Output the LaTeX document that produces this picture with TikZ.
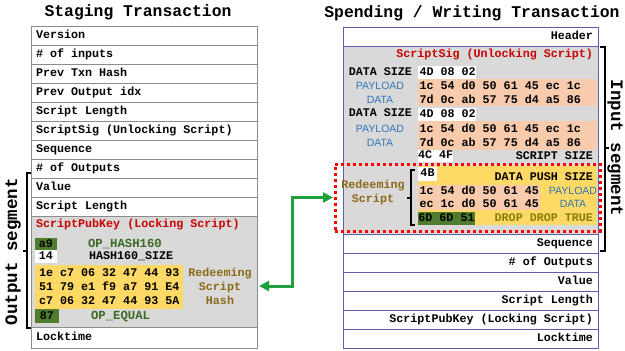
\documentclass[tikz,border=0pt]{standalone}
\usepackage{fontspec}
\newfontfamily\mono{Liberation Mono}
\newfontfamily\sansf{Liberation Sans}
\usetikzlibrary{arrows.meta}
\definecolor{lgray}{RGB}{140,140,140}
\definecolor{rblue}{RGB}{95,95,175}
\definecolor{blk}{RGB}{217,217,217}
\definecolor{sred}{RGB}{200,0,0}
\definecolor{dgreen}{RGB}{80,125,45}
\definecolor{opgreen}{RGB}{60,105,35}
\definecolor{yel}{RGB}{255,217,102}
\definecolor{salmon}{RGB}{248,203,173}
\definecolor{pblue}{RGB}{46,117,182}
\definecolor{brown}{RGB}{140,105,25}
\definecolor{olive}{RGB}{135,125,10}
\definecolor{agreen}{RGB}{30,160,60}
\newcommand\lrowtext[1]{\makebox[216pt][l]{#1}}
\newcommand\rrowtext[1]{\makebox[245pt][r]{#1}}
\begin{document}
\begin{tikzpicture}[x=1pt,y=-1pt,
  every node/.style={inner sep=0pt, outer sep=0pt, font=\mono\bfseries\fontsize{11.7}{12}\selectfont, text height=7.5pt, text depth=1.5pt},
  lrow/.style={draw=lgray, line width=1pt, minimum width=226pt, minimum height=19pt, anchor=north west},
  rrow/.style={draw=rblue, line width=1pt, minimum width=255pt, minimum height=19pt, anchor=north west},
  fbox/.style={anchor=north west, minimum width=#1},
  ttl/.style={font=\mono\bfseries\fontsize{16.4}{18}\selectfont},
  segtxt/.style={font=\mono\bfseries\fontsize{#1}{20}\selectfont},
  opg/.style={text=opgreen, font=\mono\bfseries\fontsize{12.3}{13}\selectfont},
  pay/.style={text=pblue, font=\sansf\fontsize{10.5}{12}\selectfont},
  brk/.style={draw=black, line width=1.4pt},
  garrow/.style={draw=agreen, line width=3pt, {Triangle[length=10pt,width=10pt]}-{Triangle[length=10pt,width=10pt]}},
  dotbox/.style={draw=red, line width=3pt, dash pattern=on 3pt off 3pt}
]
\useasboundingbox (0,0) rectangle (625,351);

% ---------- Left: Staging Transaction ----------
\node[ttl] (ltitle) at (138,13) {Staging Transaction};
\node[lrow] (l1) at (31,26) {\lrowtext{Version}};
\node[lrow] (l2) at (31,45) {\lrowtext{\# of inputs}};
\node[lrow] (l3) at (31,64) {\lrowtext{Prev Txn Hash}};
\node[lrow] (l4) at (31,83) {\lrowtext{Prev Output idx}};
\node[lrow] (l5) at (31,102) {\lrowtext{Script Length}};
\node[lrow] (l6) at (31,121) {\lrowtext{ScriptSig (Unlocking Script)}};
\node[lrow] (l7) at (31,140) {\lrowtext{Sequence}};
\node[lrow] (l8) at (31,159) {\lrowtext{\# of Outputs}};
\node[lrow] (l9) at (31,178) {\lrowtext{Value}};
\node[lrow] (l10) at (31,197) {\lrowtext{Script Length}};
\node[lrow, fill=blk, minimum height=111pt] (spk) at (31,216) {};
\node[lrow, minimum height=21pt] (l12) at (31,327) {\lrowtext{Locktime}};

\node[anchor=west, text=sred] (spkt) at (36,224.5) {ScriptPubKey (Locking Script)};
\node[fbox=22pt, minimum height=12pt, fill=dgreen] (a9) at (35,238) {a9};
\node[fbox=22pt, minimum height=13pt, fill=white] (b14) at (35,250) {14};
\node[anchor=west, opg] (oph) at (88,244) {OP\_HASH160};
\node[anchor=west] (hsz) at (89,256.5) {HASH160\_SIZE};
\node[fbox=148pt, minimum height=44pt, fill=yel] (hashblk) at (35,265) {};
\node[anchor=west] (h1) at (39,273.5) {1e c7 06 32 47 44 93};
\node[anchor=west] (h2) at (39,287.5) {51 79 e1 f9 a7 91 E4};
\node[anchor=west] (h3) at (39,301.5) {c7 06 32 47 44 93 5A};
\node[text=brown] (rsh1) at (220,273) {Redeeming};
\node[text=brown] (rsh2) at (220,287) {Script};
\node[text=brown] (rsh3) at (220,301) {Hash};
\node[fbox=24pt, minimum height=14pt, fill=dgreen] (b87) at (35,309) {87};
\node[anchor=west, opg] (opeq) at (91,316.5) {OP\_EQUAL};

% Output segment bracket
\draw[brk] (31,173) -- (27,173) -- (27,328) -- (31,328);
\draw[brk] (27,251) -- (23,251);
\node[segtxt=17.5, rotate=90] (outseg) at (14,251.5) {Output segment};

% ---------- Right: Spending / Writing Transaction ----------
\node[ttl] (rtitle) at (472,14) {Spending / Writing Transaction};
\node[rrow] (r1) at (343,27) {\rrowtext{Header}};
\node[rrow, fill=blk, minimum height=188pt] (inblk) at (343,46) {};
\node[rrow] (r3) at (343,234) {\rrowtext{Sequence}};
\node[rrow] (r4) at (343,253) {\rrowtext{\# of Outputs}};
\node[rrow] (r5) at (343,272) {\rrowtext{Value}};
\node[rrow] (r6) at (343,291) {\rrowtext{Script Length}};
\node[rrow] (r7) at (343,310) {\rrowtext{ScriptPubKey (Locking Script)}};
\node[rrow] (r8) at (343,329) {\rrowtext{Locktime}};

\node[anchor=east, text=sred] (sst) at (593,54) {ScriptSig (Unlocking Script)};
\node[anchor=east] (ds1) at (412,72) {DATA SIZE};
\node[fbox=58pt, minimum height=13pt, fill=white] (w1) at (418,66) {};
\node[anchor=west] (w1t) at (419.5,72.5) {4D 08 02};
\node[fbox=179pt, minimum height=27pt, fill=salmon] (s1) at (418,79) {};
\node[anchor=west] (s1a) at (419.5,86.5) {1c 54 d0 50 61 45 ec 1c};
\node[anchor=west] (s1b) at (419.5,100.5) {7d 0c ab 57 75 d4 a5 86};
\node[pay] (p1a) at (380,86.5) {PAYLOAD};
\node[pay] (p1b) at (380,100.5) {DATA};
\node[anchor=east] (ds2) at (412,113.5) {DATA SIZE};
\node[fbox=58pt, minimum height=13pt, fill=white] (w2) at (418,107.5) {};
\node[anchor=west] (w2t) at (419.5,114) {4D 08 02};
\node[fbox=179pt, minimum height=29pt, fill=salmon] (s2) at (418,120.5) {};
\node[anchor=west] (s2a) at (419.5,129) {1c 54 d0 50 61 45 ec 1c};
\node[anchor=west] (s2b) at (419.5,143) {7d 0c ab 57 75 d4 a5 86};
\node[pay] (p2a) at (380,129) {PAYLOAD};
\node[pay] (p2b) at (380,143) {DATA};
\node[fbox=35pt, minimum height=12.5pt, fill=white] (w3) at (418,149.5) {4C 4F};
\node[anchor=east] (ssz) at (593,156) {SCRIPT SIZE};

% Redeeming script area
\node[fbox=179pt, minimum height=59pt, fill=yel] (ry) at (418,166) {};
\node[fbox=19pt, minimum height=14.5pt, fill=white] (w4) at (418,166.5) {4B};
\node[anchor=east] (dps) at (593,177.5) {DATA PUSH SIZE};
\node[fbox=122pt, minimum height=25pt, fill=salmon] (s3) at (418,185) {};
\node[anchor=west] (s3a) at (419.5,191) {1c 54 d0 50 61 45};
\node[anchor=west] (s3b) at (419.5,204) {ec 1c d0 50 61 45};
\node[pay] (p3a) at (573,191) {PAYLOAD};
\node[pay] (p3b) at (573,204) {DATA};
\node[fbox=57pt, minimum height=13pt, fill=dgreen] (g3) at (418,212) {6D 6D 51};
\node[anchor=east, text=olive] (ddt) at (593,218.5) {DROP DROP TRUE};
\node[text=brown] (rs1) at (373,185) {Redeeming};
\node[text=brown] (rs2) at (373,199) {Script};
\draw[brk, line width=1.2pt] (415,170) -- (411,170) -- (411,225) -- (415,225);
\draw[brk, line width=1.2pt] (411,198) -- (407,198);

\node[dotbox, anchor=north west, minimum width=265pt, minimum height=67pt] (rbox) at (335,164) {};

% Input segment bracket
\draw[brk] (600,47) -- (605,47) -- (605,251) -- (600,251);
\draw[brk] (605,148) -- (609,148);
\node[segtxt=17.5, rotate=-90] (inseg) at (614,148) {Input segment};

% Green double arrow
\coordinate (hashin) at (259,286);
\coordinate (midx) at (292,0);
\draw[garrow] ([xshift=-2pt]rbox.west) -| (midx |- hashin) -- (hashin);
\end{tikzpicture}
\end{document}
